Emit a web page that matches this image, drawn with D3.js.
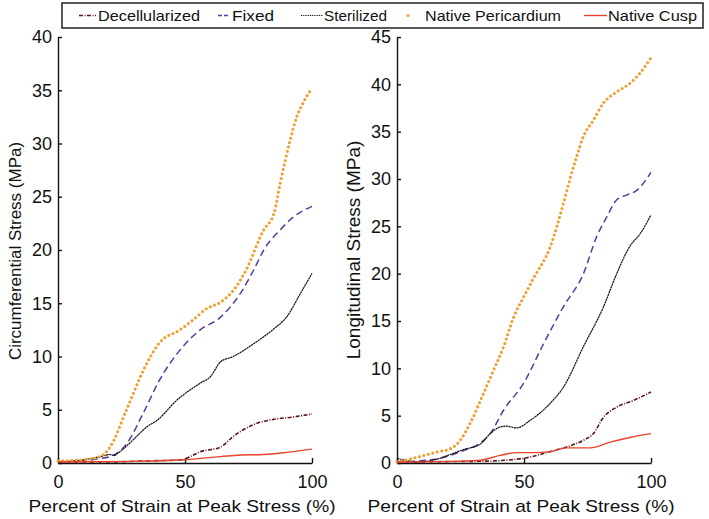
<!DOCTYPE html>
<html lang="en">
<head>
<meta charset="UTF-8">
<title>Stress vs strain</title>
<style>
  body { margin: 0; background: #fff; }
  text { font-family: "Liberation Sans", Arial, sans-serif; fill: #111; }
</style>
</head>
<body>
<svg id="chart" width="709" height="519"></svg>
<script src="https://d3js.org/d3.v7.min.js"></script>
<script>
// series names for the legend
var seriesNames = ["Decellularized", "Fixed", "Sterilized", "Native Pericardium", "Native Cusp"];

// circumferential panel, [percent strain, stress MPa]
var circDecell = [[0,0.1],[20,0.1],[35,0.2],[49,0.3],[52,0.6],[56,1.05],[64,1.5],[69,2.5],[77,3.6],[85,4.1],[92,4.3],[100,4.6]];
var circFixed = [[0,0.1],[10,0.2],[16,0.4],[20.5,0.6],[27,1.8],[33.6,4.7],[40,7.8],[48,10.6],[56,12.5],[64,13.7],[72,16],[77,18.1],[81,20],[87.5,21.9],[92.7,23.1],[100,24.1]];
var circSteril = [[0,0.1],[10,0.3],[16.6,0.6],[20.5,0.8],[22,0.7],[24.4,1.06],[29.7,2.2],[35,3.4],[39,4.0],[46.8,5.9],[56,7.5],[60,8.1],[64,9.5],[69,10],[77,11.2],[85,12.6],[90,13.7],[95.4,15.9],[100,17.8]];
var circPeri = [[0,0.2],[10,0.3],[16.6,0.6],[20.5,1.5],[27,5.0],[33.6,8.7],[40,11.3],[48,12.5],[53,13.4],[58.6,14.5],[64,15.1],[69,16.2],[74,18.1],[81,21.9],[85,23.4],[87.5,26.3],[91.4,30.3],[94,32.5],[96.7,33.9],[100,35.2]];
var circCusp = [[0,0.1],[30,0.15],[49,0.3],[64,0.6],[72,0.75],[81,0.8],[90,1.0],[100,1.3]];

// longitudinal panel
var longDecell = [[0,0.1],[20,0.15],[35,0.2],[49.8,0.5],[55,0.8],[60.3,1.2],[66.8,1.7],[73.4,2.4],[77.3,3.1],[81.2,4.8],[86.5,5.9],[93,6.6],[100,7.5]];
var longFixed = [[0,0.1],[15,0.4],[21,0.8],[26,1.3],[31.5,1.9],[36.7,3.1],[42,5.6],[49.8,8.4],[57.7,12.6],[65.5,16.5],[73.4,20],[78.6,23.9],[82.6,26],[86.5,27.8],[90.4,28.3],[94.4,28.8],[100,30.7]];
var longSteril = [[0,0.5],[3,0.3],[7.9,0.1],[15.7,0.4],[21,0.9],[26,1.4],[32.8,2.0],[36.7,3.1],[40.6,3.8],[43,3.9],[47,3.7],[52.4,4.5],[60.3,6.3],[65.5,8.0],[73.4,12.3],[81.3,16.5],[86.5,20],[91.7,22.9],[95.7,24.2],[100,26.2]];
var longPeri = [[0,0.1],[7.9,0.6],[15.7,1.16],[21,1.5],[24.9,2.4],[28.8,4.2],[34,7.3],[38,9.8],[42,12.3],[45.9,15.4],[49.8,17.5],[53.7,19.5],[60.3,22.8],[65.5,27.4],[68,29.9],[70.8,32.4],[73.4,34.5],[77.3,36.2],[81.2,38],[86.5,39.2],[91.7,40.1],[95.7,41.2],[100,42.8]];
var longCusp = [[0,0.1],[25,0.2],[32.8,0.3],[40.6,0.8],[47,1.1],[53.7,1.1],[60.3,1.2],[66.8,1.6],[76,1.6],[83.9,2.2],[91.7,2.7],[100,3.1]];

var xTicks = [0, 50, 100];
var circTicks = [0, 5, 10, 15, 20, 25, 30, 35, 40];
var longTicks = [0, 5, 10, 15, 20, 25, 30, 35, 40, 45];

var styles = [
  {color: "#5c1414", dash: "4,1.5,1,1.5", width: 1.6, cap: "butt"},
  {color: "#5b3a9e", dash: "7,4", width: 1.5, cap: "butt"},
  {color: "#111111", dash: "2.2,0.5", width: 1.2, cap: "butt"},
  {color: "#f0a030", dash: "0.1,4.5", width: 3, cap: "round"},
  {color: "#e8432a", dash: null, width: 1.4, cap: "butt"}
];

var svg = d3.select("#chart");

function styleAxis(a) {
  a.select(".domain").attr("stroke", "#111").attr("stroke-width", 1.4);
  a.selectAll("line").attr("stroke", "#111").attr("stroke-width", 1.4);
  a.selectAll("text").attr("font-size", 18).attr("font-family", "Liberation Sans, Arial, sans-serif").attr("fill", "#111");
}

function drawPanel(left, right, yMax, yTicks, series, title, titleX, titleY, titleSize) {
  var x = d3.scaleLinear().domain([0, 100]).range([left, right]);
  var y = d3.scaleLinear().domain([0, yMax]).range([463, 37]);
  var g = svg.append("g");

  g.append("g")
    .attr("transform", "translate(0,463)")
    .call(d3.axisBottom(x).tickValues(xTicks).tickSizeInner(-5).tickSizeOuter(0).tickPadding(12))
    .call(styleAxis);

  g.append("g")
    .attr("transform", "translate(" + left + ",0)")
    .call(d3.axisLeft(y).tickValues(yTicks).tickSizeInner(-4).tickSizeOuter(0).tickPadding(6))
    .call(styleAxis);

  var line = d3.line()
    .x(function(d) { return x(d[0]); })
    .y(function(d) { return y(d[1]); })
    .curve(d3.curveMonotoneX);

  series.forEach(function(s, i) {
    var st = styles[i];
    g.append("path")
      .attr("d", line(s))
      .attr("fill", "none")
      .attr("stroke", st.color)
      .attr("stroke-width", st.width)
      .attr("stroke-linecap", st.cap)
      .attr("stroke-dasharray", st.dash);
  });

  g.append("text")
    .attr("x", (left + right) / 2 - 3)
    .attr("y", 512)
    .attr("text-anchor", "middle")
    .attr("font-size", 17)
    .attr("textLength", 307)
    .attr("lengthAdjust", "spacingAndGlyphs")
    .text("Percent of Strain at Peak Stress (%)");

  g.append("text")
    .attr("transform", "translate(" + titleX + "," + titleY + ") rotate(-90)")
    .attr("text-anchor", "middle")
    .attr("font-size", titleSize)
    .text(title);
}

drawPanel(58, 312, 40, circTicks, [circDecell, circFixed, circSteril, circPeri, circCusp], "Circumferential Stress (MPa)", 21, 251, 17);
drawPanel(397, 651, 45, longTicks, [longDecell, longFixed, longSteril, longPeri, longCusp], "Longitudinal Stress (MPa)", 360, 250, 19);

// legend
var legend = svg.append("g");
legend.append("rect")
  .attr("x", 62).attr("y", 3).attr("width", 641).attr("height", 25)
  .attr("fill", "#fff").attr("stroke", "#111").attr("stroke-width", 1.4);

var legendLine = [[79, 96], [218, 230], [301, 323], [408, 408], [584, 607]];
var legendText = [[98, 102], [232, 42], [324, 63], [425, 136], [608, 89]];
seriesNames.forEach(function(name, i) {
  var st = styles[i];
  if (i === 3) {
    legend.append("circle").attr("cx", legendLine[i][0]).attr("cy", 15.5).attr("r", 1.5).attr("fill", st.color);
  } else {
    legend.append("line")
      .attr("x1", legendLine[i][0]).attr("x2", legendLine[i][1])
      .attr("y1", 15.5).attr("y2", 15.5)
      .attr("stroke", st.color).attr("stroke-width", st.width)
      .attr("stroke-dasharray", i === 1 ? "4,2" : (i === 2 ? "1,0.8" : st.dash));
  }
  legend.append("text")
    .attr("x", legendText[i][0])
    .attr("y", 21)
    .attr("font-size", 15)
    .attr("textLength", legendText[i][1])
    .attr("lengthAdjust", "spacingAndGlyphs")
    .text(name);
});
</script>
</body>
</html>
